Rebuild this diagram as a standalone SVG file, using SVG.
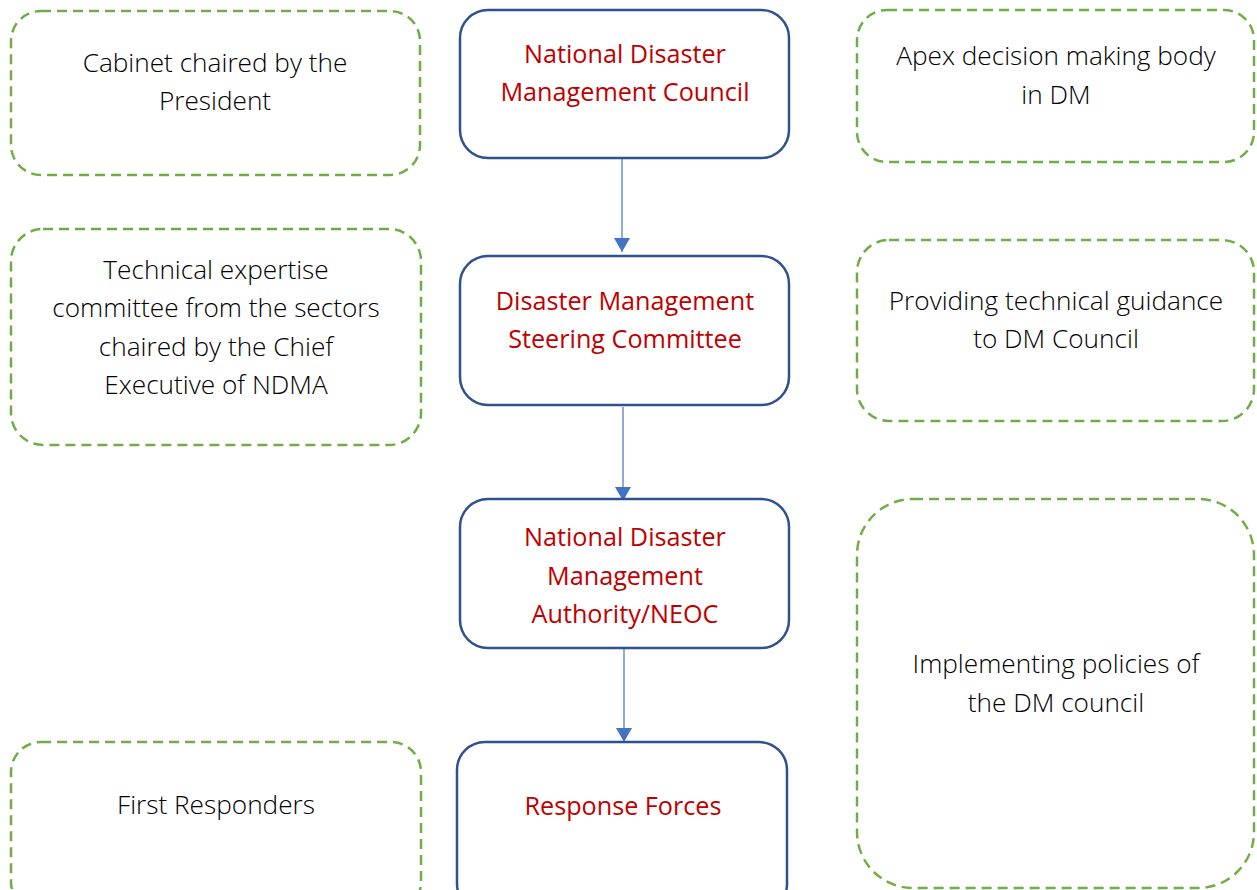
<svg xmlns="http://www.w3.org/2000/svg" width="1257" height="890" viewBox="0 0 1257 890">
<defs>
<style>
.main{fill:#fff;stroke:#2F528F;stroke-width:2.5}
.note{fill:#fff;stroke:#70AD47;stroke-width:2.5;stroke-dasharray:10 6}
.red{font-family:"Open Sans","Noto Sans",sans-serif;font-size:25.2px;fill:#C00000;text-anchor:middle}
.blk{font-family:"Open Sans","Noto Sans",sans-serif;font-size:26.2px;font-weight:300;fill:#000;text-anchor:middle}
.conn{stroke:#4472C4;stroke-width:1.2;fill:none}
</style>
<marker id="arr" markerUnits="userSpaceOnUse" markerWidth="16" markerHeight="16" refX="14" refY="8" orient="auto">
<path d="M0,0 L14,8 L0,16 Z" fill="#4472C4"/>
</marker>
</defs>
<rect width="1257" height="890" fill="#fff"/>

<g id="connectors">
<line class="conn" x1="622" y1="159" x2="622" y2="252" marker-end="url(#arr)"/>
<line class="conn" x1="623" y1="407" x2="623" y2="501" marker-end="url(#arr)"/>
<line class="conn" x1="624" y1="649" x2="624" y2="742" marker-end="url(#arr)"/>
</g>

<g id="note-cabinet">
<rect class="note" x="11" y="11" width="409" height="164" rx="30"/>
<text class="blk" x="215" y="72">Cabinet chaired by the</text>
<text class="blk" x="215" y="110">President</text>
</g>
<g id="note-technical">
<rect class="note" x="11" y="229" width="410" height="216" rx="32"/>
<text class="blk" x="216" y="279">Technical expertise</text>
<text class="blk" x="216" y="317">committee from the sectors</text>
<text class="blk" x="216" y="356">chaired by the Chief</text>
<text class="blk" x="216" y="394">Executive of NDMA</text>
</g>
<g id="note-first">
<rect class="note" x="11" y="742" width="410" height="170" rx="30"/>
<text class="blk" x="216" y="814">First Responders</text>
</g>

<g id="node-council">
<rect class="main" x="460" y="10" width="329" height="148" rx="28"/>
<text class="red" x="625" y="63">National Disaster</text>
<text class="red" x="625" y="101">Management Council</text>
</g>
<g id="node-steering">
<rect class="main" x="460" y="256" width="329" height="149" rx="28"/>
<text class="red" x="625" y="310">Disaster Management</text>
<text class="red" x="625" y="348">Steering Committee</text>
</g>
<g id="node-ndma">
<rect class="main" x="460" y="499" width="329" height="149" rx="28"/>
<text class="red" x="625" y="546">National Disaster</text>
<text class="red" x="625" y="585">Management</text>
<text class="red" x="625" y="623">Authority/NEOC</text>
</g>
<g id="node-response">
<rect class="main" x="457" y="742" width="330" height="170" rx="28"/>
<text class="red" x="623" y="815">Response Forces</text>
</g>

<g id="note-apex">
<rect class="note" x="857" y="10" width="397" height="152" rx="30"/>
<text class="blk" x="1056" y="65">Apex decision making body</text>
<text class="blk" x="1056" y="104">in DM</text>
</g>
<g id="note-guidance">
<rect class="note" x="857" y="240" width="397" height="181" rx="32"/>
<text class="blk" x="1056" y="310">Providing technical guidance</text>
<text class="blk" x="1056" y="348">to DM Council</text>
</g>
<g id="note-implementing">
<rect class="note" x="857" y="499" width="397" height="389" rx="56"/>
<text class="blk" x="1056" y="673">Implementing policies of</text>
<text class="blk" x="1056" y="712">the DM council</text>
</g>
</svg>
